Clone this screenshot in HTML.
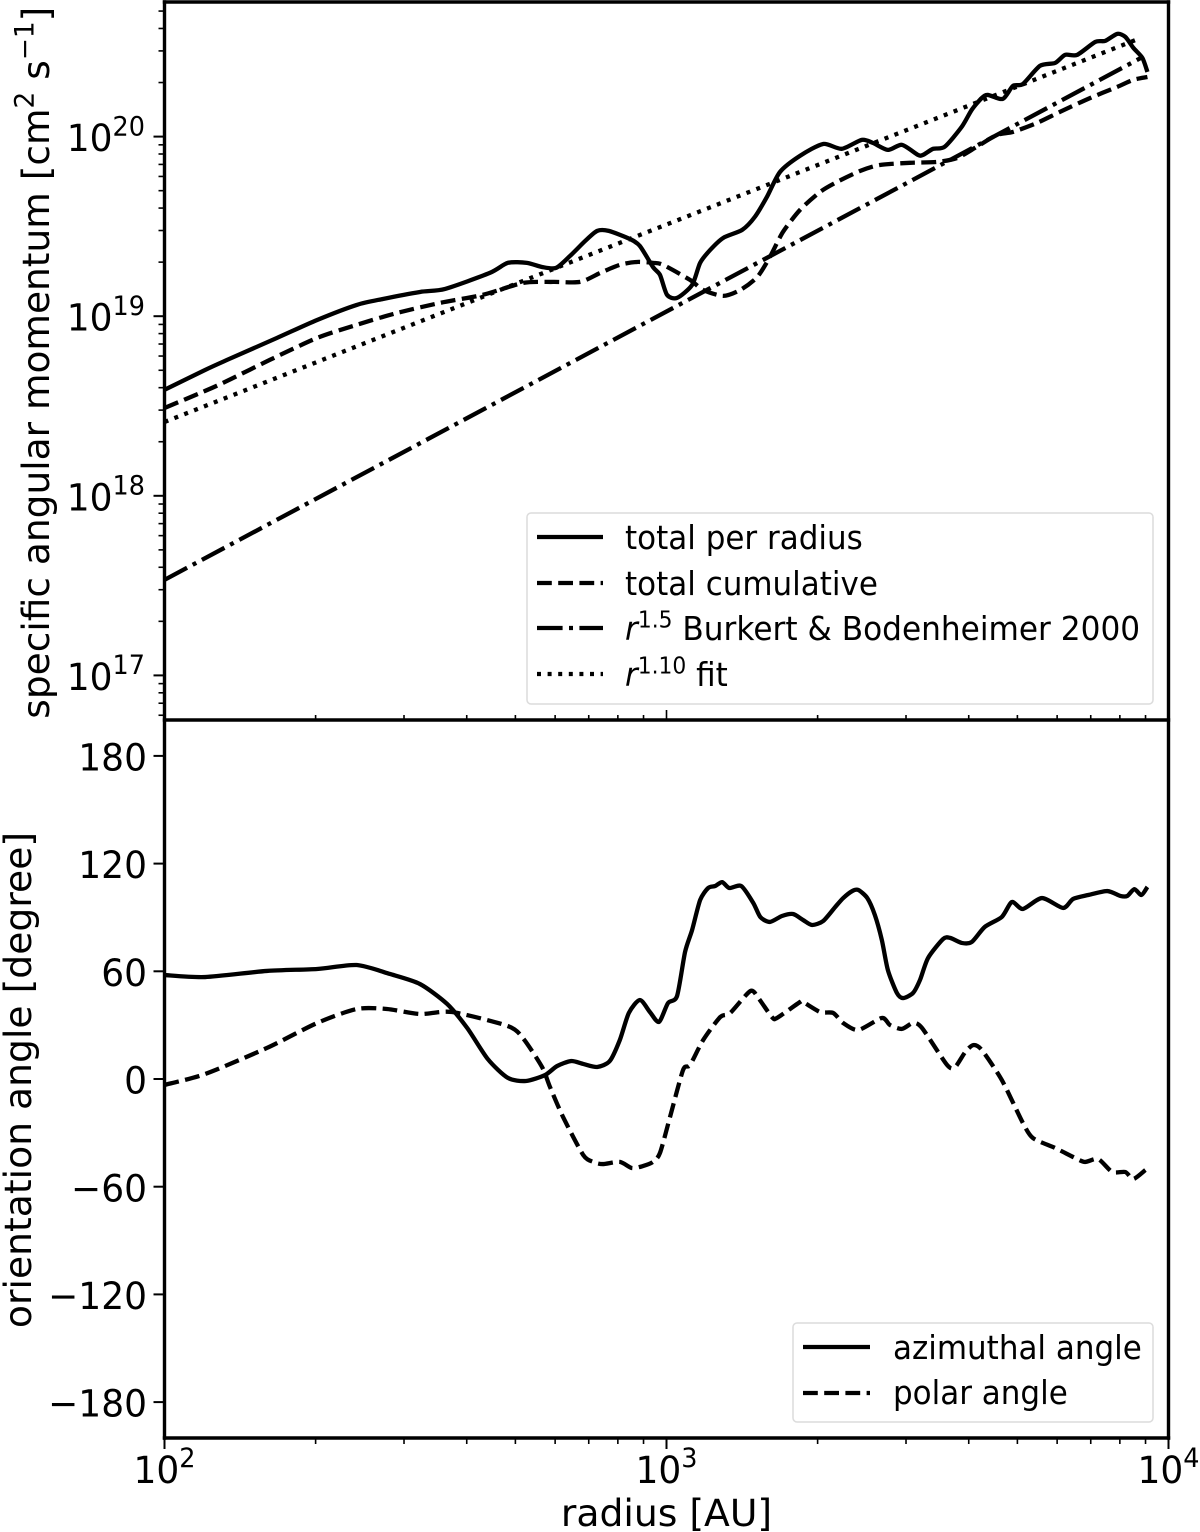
<!DOCTYPE html>
<html lang="en">
<head>
<meta charset="utf-8">
<title>Specific angular momentum and orientation angle vs radius</title>
<style>
html,body{margin:0;padding:0;background:#fff;}
svg{display:block;}
text{font-family:"DejaVu Sans","Liberation Sans",sans-serif;fill:#000;}
.legend-text{font-size:31px;}
.axis-title{font-size:37.7px;}
</style>
</head>
<body>
<svg id="chart" xmlns="http://www.w3.org/2000/svg" width="1200" height="1532" viewBox="0 0 1200 1532">
  <rect x="0" y="0" width="1200" height="1532" fill="#fff"/>
  <g id="curves"></g>
  <g id="axes"></g>

  <text class="axis-title" x="666.5" y="1526" text-anchor="middle">radius [AU]</text>
  <text class="axis-title" transform="translate(49,362.7) rotate(-90)" text-anchor="middle" style="font-size:37.5px">specific angular momentum [cm<tspan dy="-15.5" style="font-size:26.4px">2</tspan><tspan dy="15.5"> s</tspan><tspan dy="-15.5" style="font-size:26.4px">−1</tspan><tspan dy="15.5">]</tspan></text>
  <text class="axis-title" transform="translate(31,1080) rotate(-90)" text-anchor="middle">orientation angle [degree]</text>

  <g>
    <rect x="527" y="513" width="626" height="191" rx="4" fill="#fff" fill-opacity="0.8" stroke="#dcdcdc" stroke-width="1.5"/>
    <line x1="537" x2="603" y1="537" y2="537" stroke="#000" stroke-width="4.3"/>
    <text class="legend-text" x="625" y="549">total per radius</text>
    <line x1="537" x2="603" y1="583" y2="583" stroke="#000" stroke-width="4.3" stroke-dasharray="14.8 6.4"/>
    <text class="legend-text" x="625" y="595">total cumulative</text>
    <line x1="537" x2="603" y1="628" y2="628" stroke="#000" stroke-width="4.3" stroke-dasharray="25.6 6.4 4 6.4"/>
    <text class="legend-text" x="625" y="640" style="font-size:31.2px"><tspan font-style="italic">r</tspan><tspan dy="-12" style="font-size:21.8px">1.5</tspan><tspan dy="12"> Burkert &amp; Bodenheimer 2000</tspan></text>
    <line x1="537" x2="603" y1="674" y2="674" stroke="#000" stroke-width="4.3" stroke-dasharray="4 6.6"/>
    <text class="legend-text" x="625" y="686"><tspan font-style="italic">r</tspan><tspan dy="-12" style="font-size:21.8px">1.10</tspan><tspan dy="12"> fit</tspan></text>
  </g>

  <g>
    <rect x="793" y="1323" width="360" height="99" rx="4" fill="#fff" fill-opacity="0.8" stroke="#dcdcdc" stroke-width="1.5"/>
    <line x1="803" x2="870" y1="1347" y2="1347" stroke="#000" stroke-width="4.3"/>
    <text class="legend-text" x="893" y="1359">azimuthal angle</text>
    <line x1="803" x2="870" y1="1393" y2="1393" stroke="#000" stroke-width="4.3" stroke-dasharray="14.8 6.4"/>
    <text class="legend-text" x="893" y="1404">polar angle</text>
  </g>
</svg>

<script>
// Radii are log10(r / AU); momenta are log10(j / cm^2 s^-1); angles are degrees.
const totalRadiusLogR = [2.000,2.081,2.125,2.224,2.304,2.383,2.435,2.509,2.559,2.648,2.684,2.722,2.752,2.780,2.808,2.838,2.862,2.885,2.927,2.947,2.973,2.987,3.001,3.021,3.051,3.067,3.087,3.113,3.151,3.176,3.200,3.226,3.266,3.312,3.349,3.389,3.411,3.441,3.469,3.501,3.511,3.531,3.554,3.588,3.608,3.628,3.640,3.670,3.690,3.710,3.744,3.774,3.794,3.818,3.854,3.874,3.898,3.914,3.930,3.948,3.958];
const totalPerRadiusLogJ = [18.590,18.701,18.757,18.879,18.979,19.063,19.096,19.135,19.152,19.241,19.297,19.297,19.274,19.269,19.336,19.419,19.475,19.475,19.430,19.391,19.274,19.230,19.119,19.102,19.174,19.297,19.369,19.436,19.481,19.553,19.664,19.803,19.893,19.959,19.932,19.982,19.965,19.926,19.954,19.898,19.898,19.932,19.943,20.054,20.149,20.215,20.232,20.210,20.282,20.293,20.394,20.410,20.455,20.455,20.527,20.533,20.572,20.555,20.494,20.438,20.360];

const cumulativeLogR = [2.000,2.081,2.125,2.210,2.304,2.383,2.463,2.549,2.634,2.714,2.774,2.828,2.868,2.907,2.941,2.973,2.993,3.047,3.073,3.113,3.147,3.181,3.206,3.232,3.266,3.306,3.340,3.386,3.425,3.485,3.539,3.579,3.618,3.658,3.690,3.738,3.784,3.844,3.898,3.930,3.958];
const totalCumulativeLogJ = [18.489,18.584,18.640,18.757,18.879,18.952,19.018,19.074,19.119,19.185,19.191,19.191,19.241,19.286,19.302,19.297,19.286,19.202,19.146,19.113,19.146,19.219,19.330,19.469,19.592,19.692,19.748,19.809,19.842,19.854,19.859,19.881,19.943,20.009,20.026,20.076,20.138,20.215,20.277,20.316,20.332];

const burkertLogR = [2.000,3.949];
const burkertLogJ = [17.532,20.444];
const fitLogR = [2.000,3.940];
const fitLogJ = [18.411,20.544];

const azimuthalLogR = [2.000,2.081,2.204,2.304,2.383,2.449,2.509,2.563,2.603,2.644,2.684,2.720,2.758,2.782,2.810,2.834,2.862,2.887,2.907,2.925,2.947,2.967,2.985,3.003,3.021,3.037,3.051,3.067,3.083,3.097,3.111,3.125,3.149,3.173,3.187,3.206,3.230,3.252,3.272,3.290,3.312,3.336,3.352,3.370,3.382,3.400,3.415,3.429,3.441,3.459,3.471,3.491,3.505,3.521,3.551,3.565,3.588,3.608,3.634,3.668,3.688,3.710,3.748,3.790,3.810,3.840,3.878,3.904,3.918,3.932,3.946,3.958];
const azimuthalAngle = [57.9,56.8,60.2,61.3,63.5,58.5,52.9,41.8,28.4,11.1,0.6,-1.1,2.2,7.2,10.0,8.4,6.7,10.0,21.7,36.8,44.0,37.3,31.8,42.3,46.2,70.8,83.0,99.7,106.4,107.5,109.7,106.4,107.5,98.0,90.2,87.5,90.8,91.9,88.6,85.8,88.0,95.8,100.8,104.7,105.3,100.8,91.4,77.4,60.7,47.9,45.1,47.9,55.2,67.4,78.0,78.6,75.8,76.3,84.7,90.3,98.6,94.7,100.8,95.3,100.3,102.5,104.7,102.0,102.0,105.8,102.5,107.0];

const polarLogR = [2.000,2.081,2.204,2.304,2.383,2.443,2.509,2.573,2.684,2.714,2.752,2.768,2.794,2.834,2.854,2.873,2.907,2.931,2.953,2.973,2.987,3.007,3.033,3.047,3.073,3.107,3.127,3.167,3.183,3.210,3.220,3.266,3.272,3.306,3.332,3.352,3.382,3.429,3.445,3.469,3.491,3.509,3.559,3.575,3.595,3.611,3.628,3.668,3.710,3.730,3.774,3.814,3.834,3.860,3.888,3.914,3.930,3.954];
const polarAngle = [-3.3,2.8,17.3,31.2,39.0,39.0,36.2,37.3,29.5,22.8,6.7,-4.5,-21.2,-42.3,-46.2,-47.4,-46.2,-49.6,-48.5,-46.2,-41.2,-21.2,5.0,7.8,21.7,34.5,36.8,49.0,45.1,34.5,34.0,42.9,42.9,37.3,36.8,31.2,27.3,34.0,30.1,27.9,31.2,28.4,7.8,6.7,15.0,18.9,16.2,-0.6,-24.5,-32.9,-38.4,-44.0,-46.2,-44.6,-51.8,-51.8,-55.7,-50.7];

const xTickExponents = [2,3,4];
const topTickExponents = [17,18,19,20];
const bottomTickLabels = [180,120,60,0,-60,-120,-180];
const minorMultipliers = [2,3,4,5,6,7,8,9];

const plotLeft = 164.5, plotRight = 1168.5, plotTop = 2, plotSplit = 720, plotBottom = 1438;
const xMinLog = 2, xMaxLog = 4;
const topDecadeLow = 17, topDecadeLowY = 675.4, topPxPerDecade = 179.6;
const angleZeroY = 1079, pxPerDegree = 1.795;
const lineWidth = 4.3;
const textStretch = 1.05;

function xAxis(logR){ return plotLeft + (logR - xMinLog) * (plotRight - plotLeft) / (xMaxLog - xMinLog); }
function yTop(logJ){ return topDecadeLowY - (logJ - topDecadeLow) * topPxPerDecade; }
function yBottom(angle){ return angleZeroY - angle * pxPerDegree; }

const NS = 'http://www.w3.org/2000/svg';
const curves = document.getElementById('curves');
const axes = document.getElementById('axes');

function make(tag, parent, attrs){
  const el = document.createElementNS(NS, tag);
  for (const k in attrs) el.setAttribute(k, attrs[k]);
  parent.appendChild(el);
  return el;
}

function stretchAt(baseY){
  return 'translate(0,' + baseY + ') scale(1,' + textStretch + ') translate(0,' + (-baseY) + ')';
}

function smoothPath(px, py){
  const n = px.length;
  if (n < 3) return 'M' + px[0].toFixed(2) + ' ' + py[0].toFixed(2) + 'L' + px[n-1].toFixed(2) + ' ' + py[n-1].toFixed(2);
  let d = 'M' + px[0].toFixed(2) + ' ' + py[0].toFixed(2);
  for (let i = 0; i < n - 1; i++) {
    const p0 = Math.max(i - 1, 0), p3 = Math.min(i + 2, n - 1);
    const c1x = px[i] + (px[i+1] - px[p0]) / 8, c1y = py[i] + (py[i+1] - py[p0]) / 8;
    const c2x = px[i+1] - (px[p3] - px[i]) / 8, c2y = py[i+1] - (py[p3] - py[i]) / 8;
    d += 'C' + c1x.toFixed(2) + ' ' + c1y.toFixed(2) + ' ' + c2x.toFixed(2) + ' ' + c2y.toFixed(2) + ' ' + px[i+1].toFixed(2) + ' ' + py[i+1].toFixed(2);
  }
  return d;
}

function drawCurve(name, xs, ys, yFn, dash){
  const el = make('path', curves, {d: smoothPath(xs.map(xAxis), ys.map(yFn)), fill: 'none', stroke: '#000', 'stroke-width': lineWidth, 'stroke-linejoin': 'round', 'stroke-dasharray': dash || 'none'});
  
  
}

drawCurve('total-per-radius-line', totalRadiusLogR, totalPerRadiusLogJ, yTop);
drawCurve('total-cumulative-line', cumulativeLogR, totalCumulativeLogJ, yTop, '14.8 6.4');
drawCurve('burkert-bodenheimer-line', burkertLogR, burkertLogJ, yTop, '25.6 6.4 4 6.4');
drawCurve('power-law-fit-line', fitLogR, fitLogJ, yTop, '4 6.6');
drawCurve('azimuthal-angle-line', azimuthalLogR, azimuthalAngle, yBottom);
drawCurve('polar-angle-line', polarLogR, polarAngle, yBottom, '14.8 6.4');

function tick(name, x1, y1, x2, y2, w){
  const el = make('line', axes, {x1: x1, y1: y1, x2: x2, y2: y2, stroke: '#000', 'stroke-width': w});
  
  
}

function powerLabel(name, base, exp, xEnd, baseY, anchor){
  const el = make('text', axes, {x: xEnd, y: baseY, 'text-anchor': anchor, 'font-size': 36, transform: stretchAt(baseY)});
  
  
  el.appendChild(document.createTextNode(base));
  const sup = make('tspan', el, {dy: -15, 'font-size': 25.5});
  sup.textContent = exp;
}

// x axis ticks and labels
xTickExponents.forEach(function(e, i){
  const x = xAxis(e);
  tick('x-major-tick-bottom-' + e, x, plotBottom, x, plotBottom + 11, 2);
  tick('x-major-tick-top-' + e, x, plotSplit, x, plotSplit - 10, 1.6);
  powerLabel('x-tick-label-' + e, '10', String(e), x, 1483, 'middle');
  if (i < xTickExponents.length - 1) {
    minorMultipliers.forEach(function(m){
      const mx = xAxis(e + Math.log10(m));
      tick('x-minor-tick-bottom', mx, plotBottom, mx, plotBottom + 6, 1.6);
      tick('x-minor-tick-top', mx, plotSplit, mx, plotSplit - 5, 1.6);
    });
  }
});

// top panel y axis
topTickExponents.forEach(function(e){
  const y = yTop(e);
  tick('top-y-major-tick-' + e, plotLeft, y, plotLeft - 11, y, 2);
  powerLabel('top-y-tick-label-' + e, '10', String(e), 145, y + 14.5, 'end');
});
for (let d = 16; d <= 20; d++) {
  minorMultipliers.forEach(function(m){
    const y = yTop(d + Math.log10(m));
    if (y > plotTop && y < plotSplit) tick('top-y-minor-tick', plotLeft, y, plotLeft - 6, y, 1.6);
  });
}

// bottom panel y axis
bottomTickLabels.forEach(function(v){
  const y = yBottom(v);
  tick('bottom-y-major-tick-' + v, plotLeft, y, plotLeft - 11, y, 2);
  const el = make('text', axes, {x: 147, y: y + 14.6, 'text-anchor': 'end', 'font-size': 36, transform: stretchAt(y + 14.6)});
  
  
  el.textContent = String(v).replace('-', '\u2212');
});

// legend text shares the slight vertical stretch of the source image
document.querySelectorAll('.legend-text').forEach(function(t){
  t.setAttribute('transform', stretchAt(parseFloat(t.getAttribute('y'))));
});

// spines
function spine(name, x1, y1, x2, y2){
  const el = make('line', axes, {x1: x1, y1: y1, x2: x2, y2: y2, stroke: '#000', 'stroke-width': 3.4, 'stroke-linecap': 'square'});
  
  
}
spine('top-spine', plotLeft, plotTop, plotRight, plotTop);
spine('left-spine', plotLeft, plotTop, plotLeft, plotBottom);
spine('right-spine', plotRight, plotTop, plotRight, plotBottom);
spine('middle-spine', plotLeft, plotSplit, plotRight, plotSplit);
spine('bottom-spine', plotLeft, plotBottom, plotRight, plotBottom);
</script>
</body>
</html>
